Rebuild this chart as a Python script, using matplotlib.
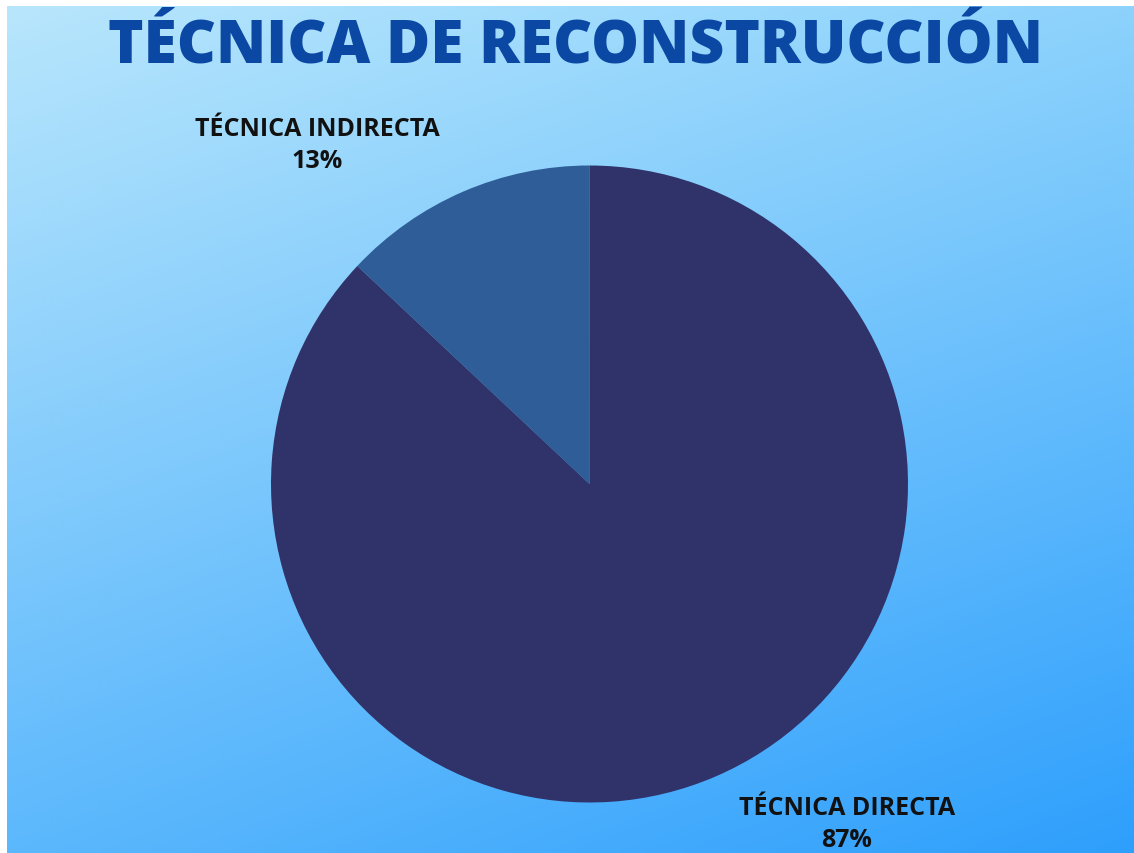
import numpy as np
import matplotlib
matplotlib.use("Agg")
import matplotlib.pyplot as plt

title = "TÉCNICA DE RECONSTRUCCIÓN"
labels = ["TÉCNICA INDIRECTA", "TÉCNICA DIRECTA"]
values = [13, 87]
colors = ["#2e5d97", "#30336a"]

W, H = 1134, 854
fig = plt.figure(figsize=(W / 100, H / 100), dpi=100)
fig.patch.set_facecolor("white")
ax = fig.add_axes([0, 0, 1, 1])
ax.set_xlim(0, W)
ax.set_ylim(0, H)
ax.axis("off")

# background gradient (bilinear between corner colours)
tl = np.array([184, 230, 252]) / 255
tr = np.array([140, 210, 252]) / 255
bl = np.array([92, 184, 252]) / 255
br = np.array([46, 159, 252]) / 255
ny, nx = 200, 260
u = np.linspace(0, 1, nx)[None, :, None]
v = np.linspace(0, 1, ny)[:, None, None]
img = (1 - v) * ((1 - u) * tl + u * tr) + v * ((1 - u) * bl + u * br)
ax.imshow(img, extent=[7, W, 0, H - 7], origin="upper", aspect="auto",
          interpolation="bilinear", zorder=0)

cx, cy, r = 589.5, H - 485, 318.5
ax.pie(values, colors=colors, startangle=90, counterclock=True,
       center=(cx, cy), radius=r, frame=True,
       wedgeprops=dict(linewidth=0))
ax.set_xlim(0, W)
ax.set_ylim(0, H)
ax.axis("off")

ax.text(575, H - 47, title, ha="center", va="center", fontsize=43.5,
        fontweight="heavy", family="Open Sans", color="#0b48a4")

lab = dict(ha="center", va="center", fontsize=18, fontweight="bold",
           family="Open Sans", color="#111111")
ax.text(317.5, H - 129, labels[0], **lab)
ax.text(317.5, H - 162, f"{values[0]}%", **lab)
ax.text(847, H - 809, labels[1], **lab)
ax.text(847, H - 841, f"{values[1]}%", **lab)

fig.savefig("out.png", dpi=100)
